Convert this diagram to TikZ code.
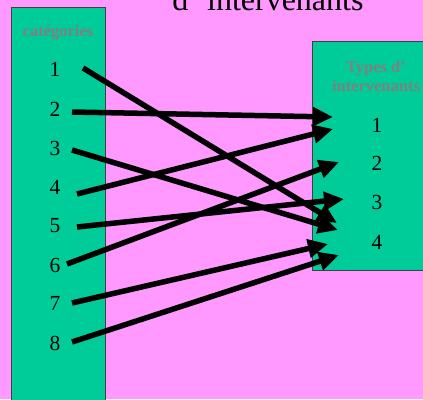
\documentclass[tikz,border=0pt]{standalone}
\usepackage{fontspec}
\setmainfont{Liberation Serif}
\usetikzlibrary{arrows.meta}
\definecolor{fondrose}{RGB}{255,153,255}
\definecolor{vertbox}{RGB}{0,204,153}
\tikzset{
  boite/.style={fill=vertbox,draw=black!75,line width=0.8pt},
  chiffre/.style={font=\fontsize{21.5}{21.5}\selectfont},
  entete/.style={font=\fontsize{16.5}{19}\bfseries\selectfont,text=black!50,align=center},
  fleche/.style={line width=5.5pt,-{Triangle[length=20pt,width=18pt]}}
}
\begin{document}
\begin{tikzpicture}[x=1pt,y=-1pt]
    \fill[fondrose] (0,0) rectangle (423,399);
    \useasboundingbox (0,0) rectangle (423,399);
    \path[boite] (11,7) rectangle (105,420);
    \path[boite] (312,41) rectangle (440,270);

    \node[font=\fontsize{32}{32}\selectfont,anchor=base] (titre) at (268,10) {d’ intervenants};
    \node[entete] (cat) at (58,33) {catégories};
    \node[entete] (typ) at (376,76) {Types d’\\intervenants};

    \node[chiffre] (c1) at (55,69) {1};
    \node[chiffre] (c2) at (55,109) {2};
    \node[chiffre] (c3) at (55,148) {3};
    \node[chiffre] (c4) at (55,187) {4};
    \node[chiffre] (c5) at (55,226) {5};
    \node[chiffre] (c6) at (55,265) {6};
    \node[chiffre] (c7) at (55,303) {7};
    \node[chiffre] (c8) at (55,343) {8};

    \node[chiffre] (t1) at (377,125) {1};
    \node[chiffre] (t2) at (377,163) {2};
    \node[chiffre] (t3) at (377,202) {3};
    \node[chiffre] (t4) at (377,242) {4};

    % depart et arrivee des fleches
    \coordinate (d1) at (83,68);
    \coordinate (d2) at (72,112);
    \coordinate (d3) at (72,150);
    \coordinate (d4) at (77,194);
    \coordinate (d5) at (77,227);
    \coordinate (d6) at (67,264);
    \coordinate (d7) at (72,303);
    \coordinate (d8) at (72,342);
    \coordinate (a1) at (337,223);
    \coordinate (a2) at (333,117);
    \coordinate (a3) at (338,230);
    \coordinate (a4) at (333,129);
    \coordinate (a5) at (344,199);
    \coordinate (a6) at (339,162);
    \coordinate (a7) at (328,244);
    \coordinate (a8) at (339,255);

    \path [fleche] (d1) edge (a1);
    \path [fleche] (d2) edge (a2);
    \path [fleche] (d3) edge (a3);
    \path [fleche] (d4) edge (a4);
    \path [fleche] (d5) edge (a5);
    \path [fleche] (d6) edge (a6);
    \path [fleche] (d7) edge (a7);
    \path [fleche] (d8) edge (a8);
\end{tikzpicture}
\end{document}
